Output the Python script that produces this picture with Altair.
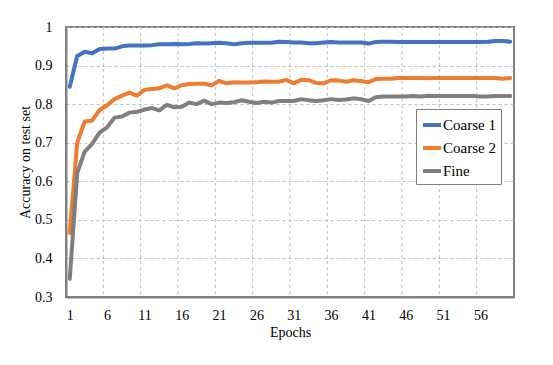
import altair as alt
import pandas as pd

epochs = list(range(1, 61))
coarse1 = [0.845, 0.925, 0.936, 0.932, 0.943, 0.944, 0.944, 0.950, 0.952, 0.952,
           0.952, 0.953, 0.955, 0.955, 0.956, 0.955, 0.956, 0.958, 0.957, 0.958,
           0.959, 0.958, 0.955, 0.958, 0.959, 0.959, 0.959, 0.959, 0.962, 0.961,
           0.960, 0.960, 0.958, 0.958, 0.960, 0.961, 0.960, 0.960, 0.960, 0.960,
           0.957, 0.961, 0.962, 0.962, 0.961, 0.961, 0.961, 0.961, 0.961, 0.961,
           0.961, 0.961, 0.961, 0.961, 0.961, 0.961, 0.962, 0.964, 0.964, 0.962]
coarse2 = [0.466, 0.700, 0.755, 0.757, 0.785, 0.797, 0.813, 0.822, 0.830, 0.822,
           0.837, 0.839, 0.841, 0.849, 0.841, 0.849, 0.852, 0.853, 0.853, 0.849,
           0.860, 0.854, 0.857, 0.856, 0.856, 0.857, 0.859, 0.858, 0.858, 0.863,
           0.854, 0.863, 0.862, 0.855, 0.854, 0.862, 0.861, 0.858, 0.862, 0.860,
           0.857, 0.865, 0.866, 0.866, 0.868, 0.868, 0.868, 0.868, 0.867, 0.868,
           0.868, 0.868, 0.868, 0.868, 0.868, 0.868, 0.868, 0.868, 0.866, 0.868]
fine = [0.347, 0.621, 0.677, 0.697, 0.726, 0.740, 0.765, 0.768, 0.778, 0.780,
        0.786, 0.790, 0.784, 0.798, 0.792, 0.793, 0.804, 0.800, 0.809, 0.800,
        0.804, 0.803, 0.805, 0.810, 0.806, 0.803, 0.806, 0.804, 0.808, 0.808,
        0.808, 0.813, 0.810, 0.808, 0.810, 0.813, 0.811, 0.812, 0.815, 0.813,
        0.808, 0.818, 0.820, 0.820, 0.820, 0.820, 0.821, 0.820, 0.822, 0.821,
        0.821, 0.821, 0.821, 0.821, 0.821, 0.820, 0.820, 0.821, 0.821, 0.821]

series_names = ["Coarse 1", "Coarse 2", "Fine"]
series_colors = ["#4472C4", "#ED7D31", "#7F7F7F"]
x_ticks = [1, 6, 11, 16, 21, 26, 31, 36, 41, 46, 51, 56]
y_ticks = [0.3, 0.4, 0.5, 0.6, 0.7, 0.8, 0.9, 1.0]

rows = []
for name, vals in zip(series_names, [coarse1, coarse2, fine]):
    for e, v in zip(epochs, vals):
        rows.append({"Epoch": e, "Accuracy": v, "Series": name})
df = pd.DataFrame(rows)

grid_df = pd.DataFrame({"Epoch": [t - 0.5 for t in x_ticks[1:]]})

FONT = "Liberation Serif"
x_scale = alt.Scale(domain=[0.5, 60.5], nice=False, zero=False)
y_scale = alt.Scale(domain=[0.3, 1.0], nice=False, zero=False)

x_axis = alt.Axis(values=x_ticks, grid=False, ticks=False, title="Epochs",
                  labelPadding=11, titlePadding=3)

vgrid = alt.Chart(grid_df).mark_rule(
    color="#BFBFBF", strokeDash=[3, 3], strokeWidth=1
).encode(x=alt.X("Epoch:Q", scale=x_scale, axis=x_axis))

lines = alt.Chart(df).mark_line(strokeWidth=4, strokeCap="round", strokeJoin="round").encode(
    x=alt.X("Epoch:Q", scale=x_scale, axis=x_axis),
    y=alt.Y("Accuracy:Q", scale=y_scale,
            axis=alt.Axis(values=y_ticks, format=".1~f", grid=True, gridDash=[3, 3],
                          gridColor="#BFBFBF", ticks=False, title="Accuracy on test set",
                          labelPadding=14, titlePadding=2)),
    color=alt.Color("Series:N",
                    scale=alt.Scale(domain=series_names, range=series_colors),
                    legend=alt.Legend(title=None, orient="none", legendX=350, legendY=82,
                                      strokeColor="#808080", fillColor="white",
                                      padding=5, symbolType="stroke",
                                      symbolStrokeWidth=4, symbolSize=324,
                                      labelOffset=0, rowPadding=4, labelLimit=200)),
)

chart = alt.layer(vgrid, lines).properties(
    width=448, height=270,
    autosize=alt.AutoSizeParams(type="none"),
    padding={"left": 58, "top": 19, "right": 31, "bottom": 52},
).configure(
    background="white", font=FONT
).configure_view(
    stroke="#808080", strokeWidth=2
).configure_axis(
    labelFont=FONT, labelFontSize=14, labelColor="#000",
    titleFont=FONT, titleFontSize=14, titleFontWeight="normal", titleColor="#000",
    domainColor="#808080", domainWidth=2
).configure_legend(
    labelFont=FONT, labelFontSize=15, labelColor="#000"
)

chart.save("out.html", embed_options={"renderer": "svg", "actions": False})
